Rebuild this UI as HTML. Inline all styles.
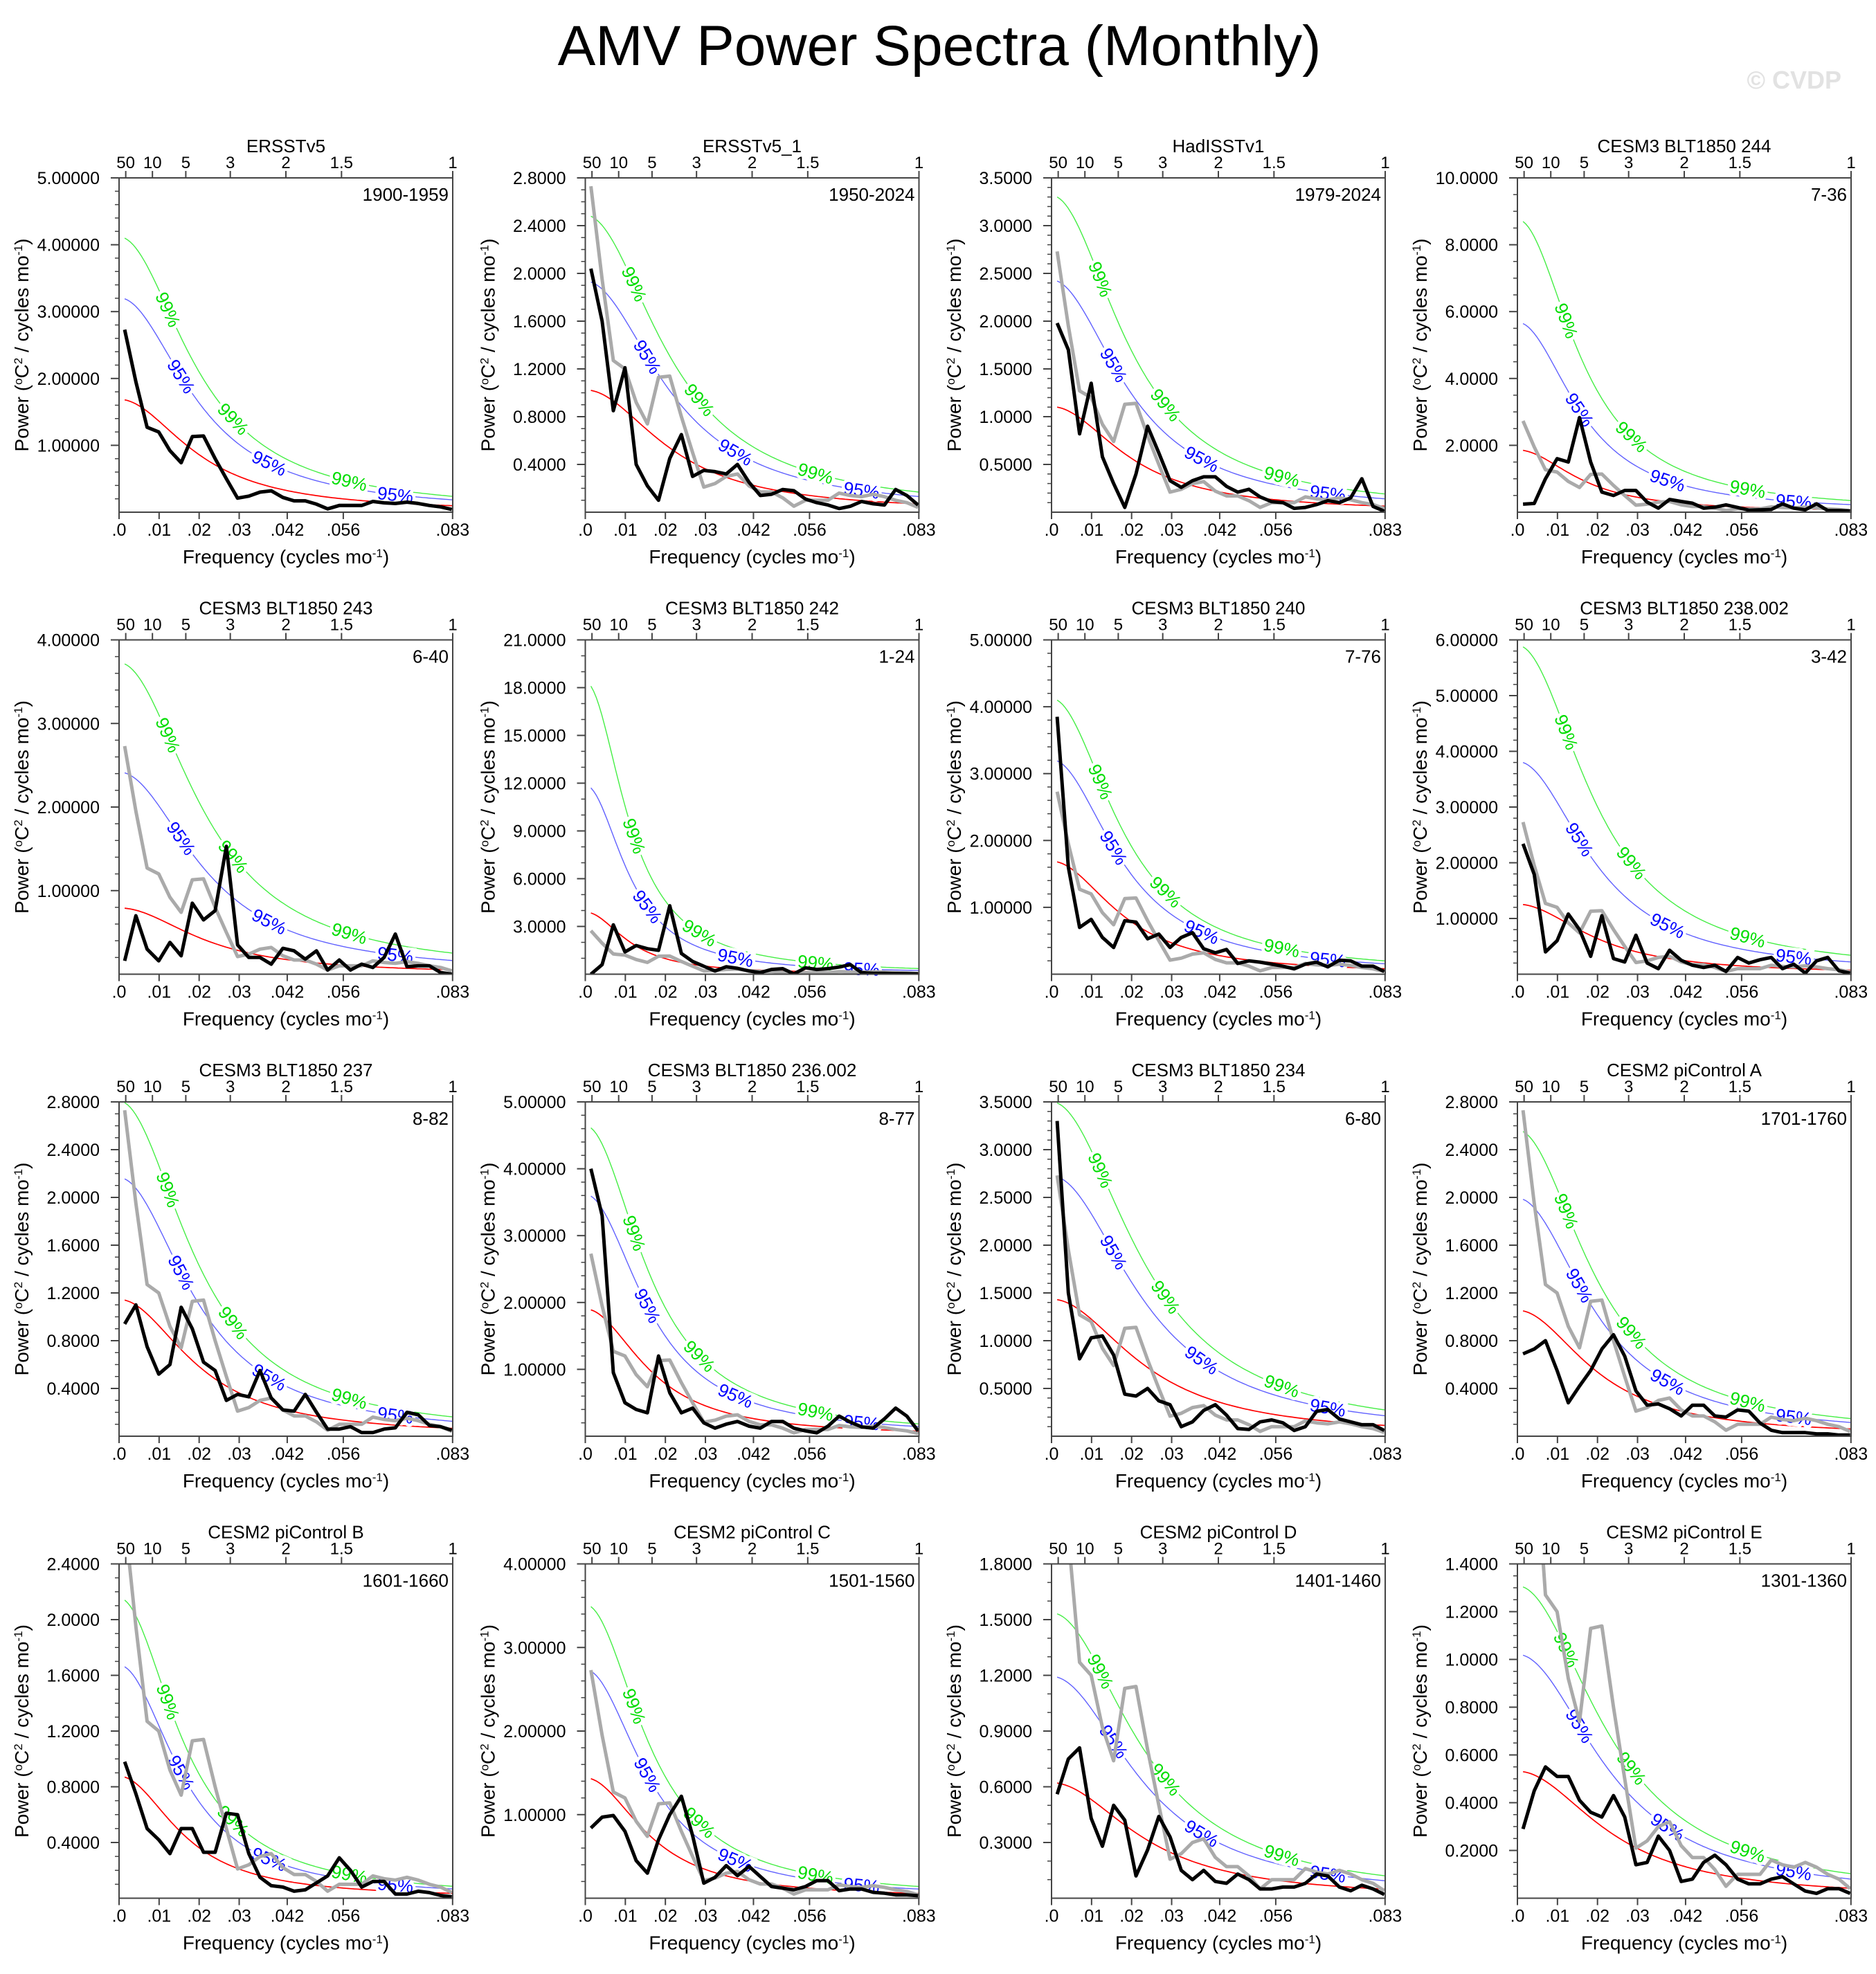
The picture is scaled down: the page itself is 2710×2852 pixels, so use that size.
<!DOCTYPE html>
<html><head><meta charset="utf-8"><title>AMV Power Spectra (Monthly)</title>
<style>
html,body{margin:0;padding:0;background:#fff;}
svg{display:block;font-family:"Liberation Sans",Arial,sans-serif;}
</style></head>
<body>
<svg id="chart" xmlns="http://www.w3.org/2000/svg" width="2710" height="2852" viewBox="0 0 2710 2852">
<rect x="0" y="0" width="2710" height="2852" fill="#fff"/>
<text x="1357" y="94" font-size="82" text-anchor="middle" fill="#000">AMV Power Spectra (Monthly)</text>
<text x="2660" y="128" font-size="36" font-weight="bold" text-anchor="end" fill="#e2e2e2">© CVDP</text>
<g id="panels"></g>
</svg>
<script>
// ---------- data ----------
const freqs = [0.0014,0.0042,0.0070,0.0099,0.0127,0.0155,0.0183,0.0211,0.0240,0.0268,0.0296,0.0324,0.0352,0.0380,0.0409,0.0437,0.0465,0.0493,0.0521,0.0550,0.0578,0.0606,0.0634,0.0662,0.0690,0.0719,0.0747,0.0775,0.0803,0.0831];
const panelTitles = ["ERSSTv5","ERSSTv5_1","HadISSTv1","CESM3 BLT1850 244","CESM3 BLT1850 243","CESM3 BLT1850 242","CESM3 BLT1850 240","CESM3 BLT1850 238.002","CESM3 BLT1850 237","CESM3 BLT1850 236.002","CESM3 BLT1850 234","CESM2 piControl A","CESM2 piControl B","CESM2 piControl C","CESM2 piControl D","CESM2 piControl E"];
const yearLabels = ["1900-1959","1950-2024","1979-2024","7-36","6-40","1-24","7-76","3-42","8-82","8-77","6-80","1701-1760","1601-1660","1501-1560","1401-1460","1301-1360"];
const yMaxes = [5.0,2.8,3.5,10.0,4.0,21.0,5.0,6.0,2.8,5.0,3.5,2.8,2.4,4.0,1.8,1.4];
const yMajorSteps = [1.0,0.4,0.5,2.0,1.0,3.0,1.0,1.0,0.4,1.0,0.5,0.4,0.4,1.0,0.3,0.2];
const yMinorSteps = [0.2,0.1,0.1,0.5,0.2,1.0,0.2,0.2,0.1,0.2,0.1,0.1,0.1,0.2,0.1,0.05];
const yDecimals = [5,4,4,4,5,4,5,5,4,5,4,4,4,5,4,4];
const redStart = [1.68,1.02,1.10,1.85,0.79,3.85,1.68,1.25,1.14,1.89,1.43,1.05,0.87,1.43,0.62,0.53];
const redLag = [0.88,0.87,0.88,0.90,0.87,0.93,0.89,0.88,0.88,0.90,0.86,0.88,0.90,0.90,0.86,0.86];
const ratio95 = [1.9,1.89,2.2,3.05,3.05,3.04,1.9,3.04,1.89,1.9,1.9,1.89,1.91,1.9,1.92,1.92];
const ratio99 = [2.44,2.43,3.0,4.7,4.7,4.7,2.44,4.7,2.45,2.44,2.44,2.43,2.46,2.44,2.47,2.46];
const bottomTicks = [0,0.01,0.02,0.03,0.042,0.056,0.0833];
const bottomTickLabels = [".0",".01",".02",".03",".042",".056",".083"];
const topPeriods = [50,10,5,3,2,1.5,1];
const topPeriodLabels = ["50","10","5","3","2","1.5","1"];
const label99Freqs = [0.0122,0.0285,0.0575];
const label95Freqs = [0.0155,0.0375,0.0690];

const obsERSSTv5 = [2.73,1.95,1.27,1.20,0.92,0.74,1.13,1.14,0.80,0.50,0.21,0.24,0.30,0.32,0.22,0.17,0.17,0.12,0.05,0.10,0.10,0.10,0.16,0.14,0.13,0.15,0.13,0.10,0.08,0.04];
const specERSSTv5_1 = [2.04,1.60,0.85,1.21,0.40,0.22,0.10,0.45,0.65,0.30,0.35,0.34,0.32,0.40,0.25,0.14,0.15,0.19,0.18,0.11,0.08,0.06,0.03,0.05,0.09,0.07,0.06,0.19,0.14,0.06];
const specHadISST = [1.98,1.70,0.82,1.35,0.58,0.30,0.05,0.40,0.90,0.62,0.33,0.26,0.33,0.37,0.37,0.27,0.21,0.24,0.16,0.11,0.10,0.04,0.05,0.08,0.12,0.10,0.15,0.35,0.06,0.01];
const spec244 = [0.24,0.26,1.00,1.60,1.50,2.83,1.50,0.60,0.50,0.65,0.65,0.30,0.12,0.38,0.32,0.27,0.12,0.15,0.22,0.14,0.06,0.07,0.08,0.25,0.12,0.07,0.25,0.05,0.05,0.04];
const spec243 = [0.16,0.70,0.30,0.16,0.38,0.22,0.85,0.65,0.76,1.53,0.35,0.20,0.20,0.12,0.31,0.28,0.18,0.28,0.05,0.17,0.05,0.12,0.08,0.20,0.48,0.09,0.10,0.10,0.02,0.00];
const spec242 = [0.00,0.60,3.10,1.40,1.80,1.60,1.50,4.30,1.30,0.80,0.50,0.20,0.47,0.37,0.20,0.10,0.30,0.35,0.02,0.40,0.30,0.35,0.45,0.60,0.10,0.05,0.05,0.04,0.03,0.02];
const spec240 = [3.85,1.60,0.70,0.82,0.55,0.40,0.80,0.78,0.53,0.60,0.40,0.55,0.62,0.38,0.32,0.37,0.16,0.20,0.18,0.15,0.12,0.08,0.15,0.18,0.11,0.21,0.20,0.12,0.12,0.04];
const spec238 = [2.34,1.79,0.40,0.60,1.08,0.80,0.32,1.05,0.28,0.22,0.70,0.20,0.10,0.43,0.25,0.16,0.12,0.16,0.05,0.30,0.20,0.26,0.30,0.10,0.18,0.02,0.24,0.30,0.06,0.02];
const spec237 = [0.94,1.10,0.75,0.52,0.60,1.08,0.90,0.62,0.55,0.30,0.35,0.33,0.55,0.32,0.22,0.21,0.35,0.20,0.06,0.06,0.08,0.03,0.03,0.06,0.07,0.20,0.18,0.09,0.08,0.05];
const spec236 = [4.00,3.30,0.95,0.50,0.40,0.35,1.20,0.65,0.35,0.42,0.20,0.12,0.18,0.22,0.15,0.12,0.22,0.22,0.12,0.08,0.05,0.15,0.30,0.21,0.14,0.12,0.26,0.42,0.30,0.08];
const spec234 = [3.30,1.50,0.81,1.03,1.05,0.85,0.44,0.42,0.50,0.37,0.33,0.10,0.15,0.27,0.33,0.22,0.08,0.07,0.15,0.17,0.14,0.06,0.10,0.26,0.28,0.18,0.15,0.12,0.12,0.06];
const specPiA = [0.69,0.73,0.80,0.55,0.28,0.42,0.55,0.73,0.85,0.67,0.38,0.26,0.27,0.23,0.17,0.26,0.26,0.17,0.16,0.22,0.21,0.11,0.05,0.03,0.03,0.03,0.02,0.02,0.01,0.01];
const specPiB = [0.98,0.75,0.50,0.42,0.32,0.50,0.50,0.33,0.33,0.61,0.60,0.32,0.15,0.09,0.08,0.05,0.06,0.11,0.16,0.29,0.20,0.08,0.12,0.12,0.03,0.03,0.05,0.04,0.02,0.01];
const specPiC = [0.84,0.97,0.99,0.80,0.45,0.30,0.70,1.00,1.22,0.75,0.18,0.25,0.39,0.27,0.38,0.26,0.14,0.12,0.10,0.14,0.21,0.21,0.09,0.11,0.11,0.07,0.06,0.04,0.04,0.03];
const specPiD = [0.56,0.75,0.81,0.43,0.28,0.50,0.42,0.12,0.26,0.44,0.33,0.15,0.10,0.15,0.09,0.08,0.13,0.10,0.05,0.05,0.06,0.06,0.08,0.13,0.12,0.06,0.04,0.07,0.05,0.02];
const specPiE = [0.29,0.45,0.55,0.51,0.51,0.41,0.36,0.34,0.43,0.34,0.14,0.15,0.26,0.20,0.07,0.08,0.15,0.18,0.14,0.08,0.06,0.06,0.08,0.09,0.06,0.03,0.02,0.04,0.04,0.02];

const panelSeries = [obsERSSTv5,specERSSTv5_1,specHadISST,spec244,spec243,spec242,spec240,spec238,spec237,spec236,spec234,specPiA,specPiB,specPiC,specPiD,specPiE];
const referenceSeries = obsERSSTv5;

// ---------- layout ----------
const NS = "http://www.w3.org/2000/svg";
const FMAX = 1/12;
const PW = 482, PH = 483;
const colLeft = [172, 845.5, 1519, 2192];
const rowTop = [257, 924.5, 1592, 2259.5];
const root = document.getElementById('panels');

function mk(tag, attrs, parent){
  const e = document.createElementNS(NS, tag);
  for (const k in attrs) e.setAttribute(k, attrs[k]);
  if (parent) parent.appendChild(e);
  return e;
}
function redNoise(f, p){
  const r = redLag[p];
  const g = x => (1-r)*(1-r)/(1 + r*r - 2*r*Math.cos(2*Math.PI*x));
  return redStart[p] * g(f) / g(freqs[0]);
}

for (let p = 0; p < 16; p++){
  const L = colLeft[p%4], T = rowTop[Math.floor(p/4)];
  const R = L + PW, B = T + PH;
  const ymax = yMaxes[p];
  const xs = f => L + f/FMAX*PW;
  const ys = v => B - v/ymax*PH;

  const g = mk('g', {}, root);
  
  

  const clip = mk('clipPath', {id:'clip'+p}, g);
  mk('rect', {x:L, y:T, width:PW, height:PH}, clip);

  const t = mk('text', {x:(L+R)/2, y:T-37, 'font-size':26, 'text-anchor':'middle', fill:'#000'}, g);
  t.textContent = panelTitles[p];
  
  
  const yl = mk('text', {x:R-6, y:T+33, 'font-size':26, 'text-anchor':'end', fill:'#000'}, g);
  yl.textContent = yearLabels[p];
  
  

  const xt = mk('text', {x:(L+R)/2, y:B+74, 'font-size':28, 'text-anchor':'middle', fill:'#000'}, g);
  xt.innerHTML = 'Frequency (cycles mo<tspan baseline-shift="super" font-size="17">-1</tspan>)';
  
  
  const yt = mk('text', {x:0, y:0, 'font-size':28, 'text-anchor':'middle', fill:'#000', transform:'translate('+(L-131)+','+((T+B)/2)+') rotate(-90)'}, g);
  yt.innerHTML = 'Power (<tspan baseline-shift="super" font-size="17">o</tspan>C<tspan baseline-shift="super" font-size="17">2</tspan> / cycles mo<tspan baseline-shift="super" font-size="17">-1</tspan>)';
  
  

  const nMinor = Math.round(ymax / yMinorSteps[p]);
  for (let i = 1; i <= nMinor; i++){
    const v = i*yMinorSteps[p];
    const major = Math.abs(v/yMajorSteps[p] - Math.round(v/yMajorSteps[p])) < 1e-6;
    const yy = ys(v);
    const tk = mk('line', {x1:L-(major?12:6), x2:L, y1:yy, y2:yy, stroke:'#444', 'stroke-width':major?2:1.5}, g);
    
    
    if (major){
      const lab = mk('text', {x:L-28, y:yy+9, 'font-size':25, 'text-anchor':'end', fill:'#000'}, g);
      lab.textContent = v.toFixed(yDecimals[p]);
      
      
    }
  }
  for (let i = 0; i < bottomTicks.length; i++){
    const xx = xs(bottomTicks[i]);
    const tk = mk('line', {x1:xx, x2:xx, y1:B, y2:B+10, stroke:'#444', 'stroke-width':2}, g);
    
    
    const lab = mk('text', {x:xx, y:B+34, 'font-size':25, 'text-anchor':'middle', fill:'#000'}, g);
    lab.textContent = bottomTickLabels[i];
    
    
  }
  for (let i = 0; i < topPeriods.length; i++){
    const xx = xs(1/(12*topPeriods[i]));
    const tk = mk('line', {x1:xx, x2:xx, y1:T, y2:T-10, stroke:'#444', 'stroke-width':2}, g);
    
    
    const lab = mk('text', {x:xx, y:T-14, 'font-size':24, 'text-anchor':'middle', fill:'#000'}, g);
    lab.textContent = topPeriodLabels[i];
    
    
  }

  const curveG = mk('g', {'clip-path':'url(#clip'+p+')'}, g);
  function curvePath(mult){
    let d = '';
    for (let i = 0; i <= 120; i++){
      const f = freqs[0] + (FMAX - freqs[0]) * i/120;
      d += (i ? 'L' : 'M') + xs(f).toFixed(1) + ',' + ys(redNoise(f,p)*mult).toFixed(1);
    }
    return d;
  }
  const red = mk('path', {d:curvePath(1), fill:'none', stroke:'#ff0000', 'stroke-width':1.7}, curveG);
  
  
  const c95 = mk('path', {d:curvePath(ratio95[p]), fill:'none', stroke:'#6060ff', 'stroke-width':1.4}, curveG);
  
  
  const c99 = mk('path', {d:curvePath(ratio99[p]), fill:'none', stroke:'#44ee44', 'stroke-width':1.4}, curveG);
  
  

  function curveLabel(f, mult, txt, col, name){
    const x0 = xs(f), y0 = ys(redNoise(f,p)*mult);
    const x1 = xs(f+0.0008), y1 = ys(redNoise(f+0.0008,p)*mult);
    const ang = Math.atan2(y1-y0, x1-x0)*180/Math.PI;
    if (y0 < T+10 || y0 > B) return;
    const lt = mk('text', {x:0, y:9, 'font-size':26, 'text-anchor':'middle', fill:col, stroke:'#fff', 'stroke-width':9, 'paint-order':'stroke', transform:'translate('+x0.toFixed(1)+','+y0.toFixed(1)+') rotate('+ang.toFixed(1)+')'}, g);
    lt.textContent = txt;
    
    
  }
  for (const f of label99Freqs) curveLabel(f, ratio99[p], '99%', '#00dd00', 'label-99-percent');
  for (const f of label95Freqs) curveLabel(f, ratio95[p], '95%', '#0000ff', 'label-95-percent');

  const serG = mk('g', {'clip-path':'url(#clip'+p+')'}, g);
  let dg = '';
  referenceSeries.forEach((v,i) => { dg += (i ? 'L' : 'M') + xs(freqs[i]).toFixed(1) + ',' + ys(v).toFixed(1); });
  const grey = mk('path', {d:dg, fill:'none', stroke:'#aaaaaa', 'stroke-width':5, 'stroke-linejoin':'round'}, serG);
  
  
  let db = '';
  panelSeries[p].forEach((v,i) => { db += (i ? 'L' : 'M') + xs(freqs[i]).toFixed(1) + ',' + ys(v).toFixed(1); });
  const blk = mk('path', {d:db, fill:'none', stroke:'#000', 'stroke-width':5, 'stroke-linejoin':'round'}, serG);
  
  

  const fr = mk('rect', {x:L, y:T, width:PW, height:PH, fill:'none', stroke:'#444', 'stroke-width':2}, g);
  
  
}
</script>
</body></html>
